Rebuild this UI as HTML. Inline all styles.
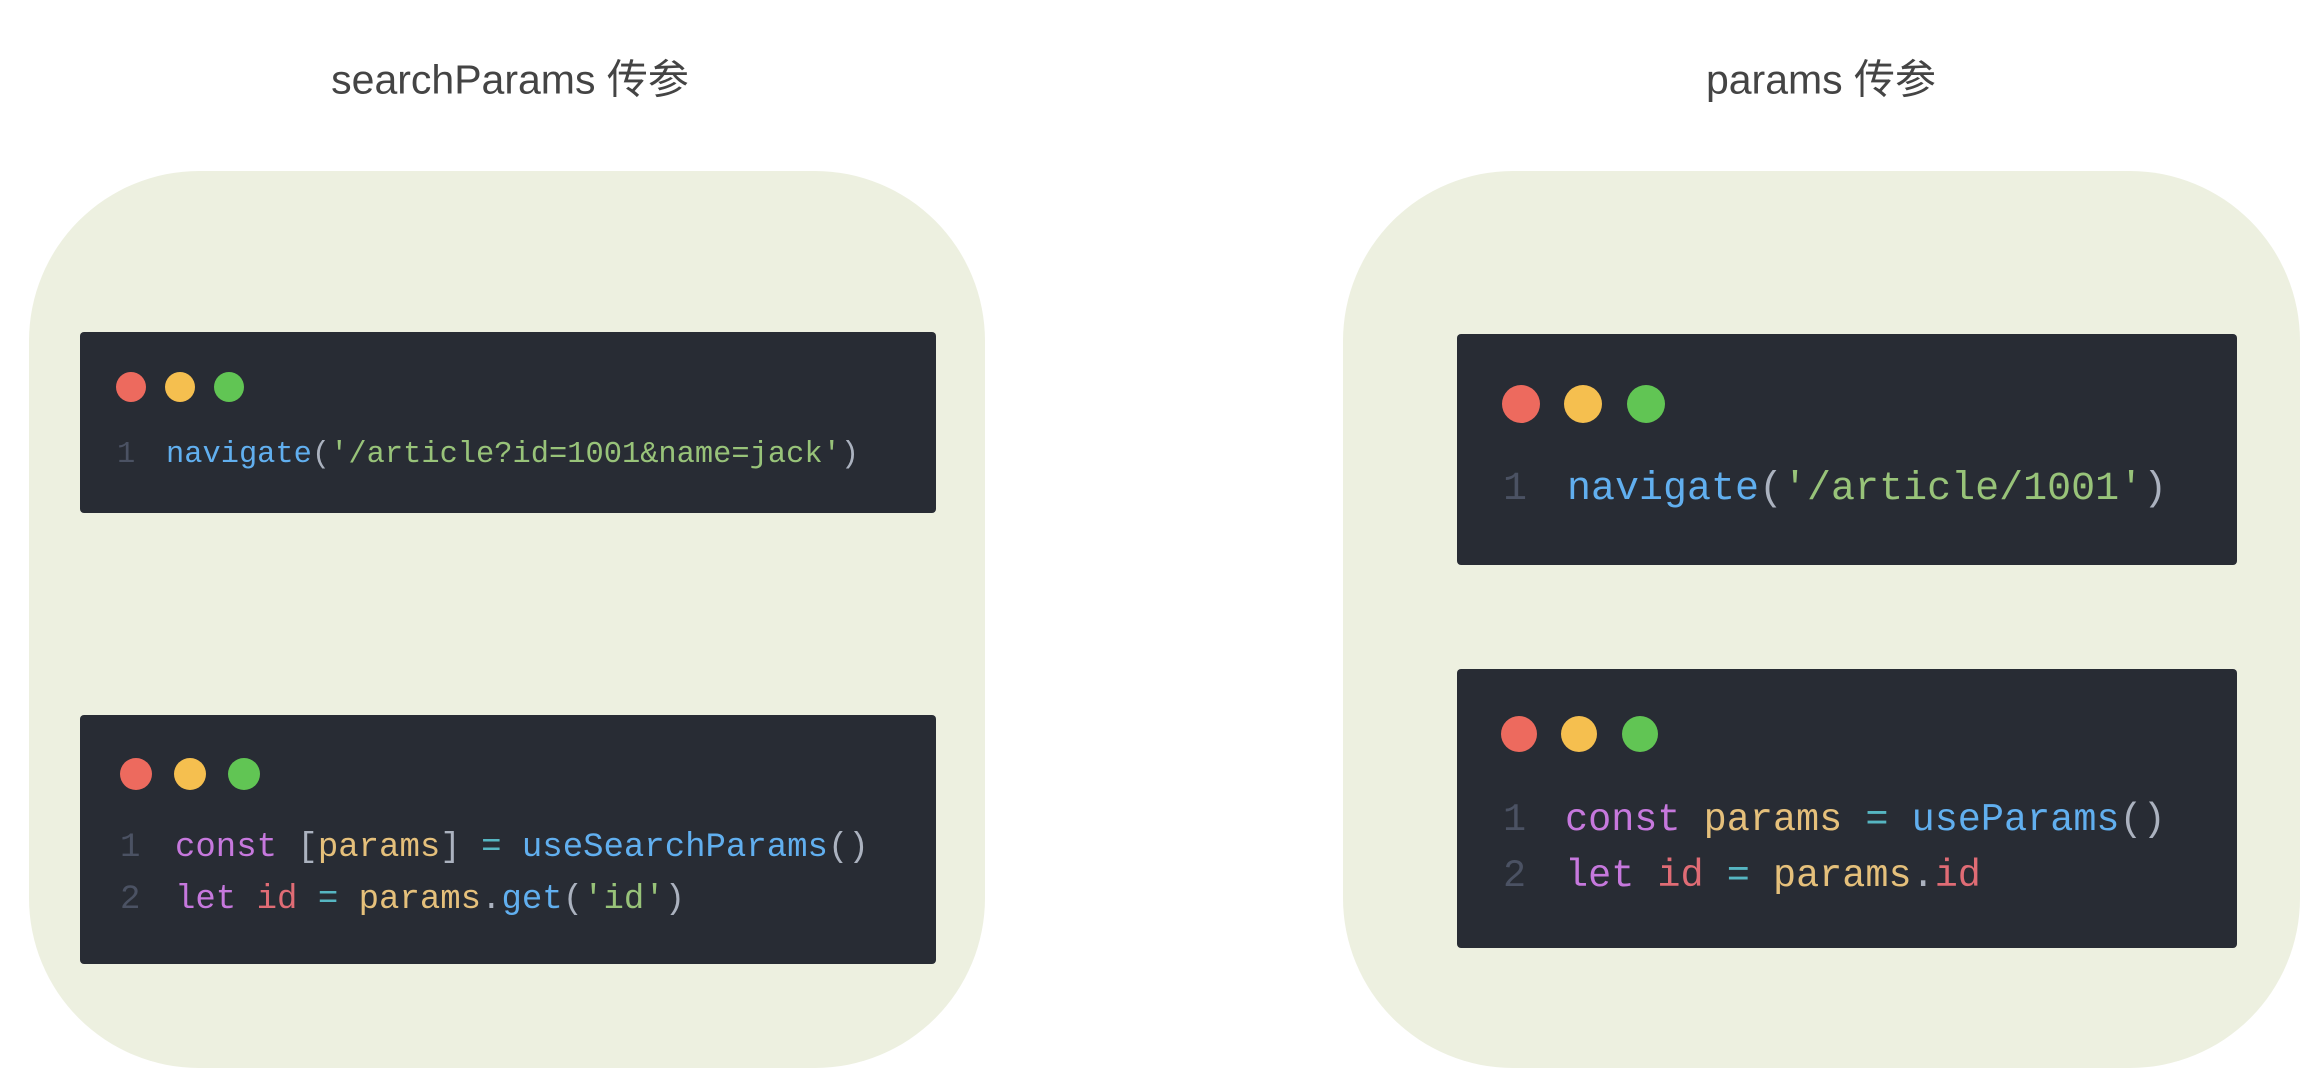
<!DOCTYPE html>
<html><head><meta charset="utf-8"><style>
*{margin:0;padding:0;box-sizing:border-box}
body{width:2322px;height:1086px;background:#fff;position:relative;overflow:hidden;font-family:"Liberation Sans","Noto Sans CJK SC",sans-serif}
.t{position:absolute;color:#444;font-size:41px;line-height:1;white-space:nowrap;transform:translate(-50%,-50%)}
.panel{position:absolute;background:#edf0e0;border-radius:170px}
.code{position:absolute;background:#282c34;border-radius:4px}
.dot{position:absolute;border-radius:50%}
.l{position:absolute;font-family:"Liberation Mono",monospace;white-space:pre;line-height:1;color:#abb2bf}
.n{color:#4b5263}.b{color:#61afef}.g{color:#98c379}.p{color:#c678dd}.y{color:#e5c07b}.r{color:#e06c75}.c{color:#56b6c2}
</style></head><body>
<div class="t" style="left:510px;top:80px">searchParams 传参</div>
<div class="t" style="left:1821px;top:80px">params 传参</div>

<div class="panel" style="left:29px;top:171px;width:956px;height:897px"></div>
<div class="panel" style="left:1343px;top:171px;width:957px;height:897px"></div>

<div class="code" style="left:80px;top:332px;width:856px;height:181px"></div>
<div class="dot" style="left:116px;top:372px;width:30px;height:30px;background:#ed6a5e"></div>
<div class="dot" style="left:165px;top:372px;width:30px;height:30px;background:#f5bf4f"></div>
<div class="dot" style="left:214px;top:372px;width:30px;height:30px;background:#61c554"></div>
<div class="l n" style="left:117px;top:440px;font-size:30.4px">1</div>
<div class="l" style="left:166px;top:440px;font-size:30.4px"><span class="b">navigate</span>(<span class="g">'/article?id=1001&amp;name=jack'</span>)</div>

<div class="code" style="left:80px;top:715px;width:856px;height:249px"></div>
<div class="dot" style="left:120px;top:758px;width:32px;height:32px;background:#ed6a5e"></div>
<div class="dot" style="left:174px;top:758px;width:32px;height:32px;background:#f5bf4f"></div>
<div class="dot" style="left:228px;top:758px;width:32px;height:32px;background:#61c554"></div>
<div class="l n" style="left:120px;top:831px;font-size:34px">1</div>
<div class="l" style="left:175px;top:831px;font-size:34px"><span class="p">const</span> [<span class="y">params</span>] <span class="c">=</span> <span class="b">useSearchParams</span>()</div>
<div class="l n" style="left:120px;top:883px;font-size:34px">2</div>
<div class="l" style="left:175px;top:883px;font-size:34px"><span class="p">let</span> <span class="r">id</span> <span class="c">=</span> <span class="y">params</span>.<span class="b">get</span>(<span class="g">'id'</span>)</div>

<div class="code" style="left:1457px;top:334px;width:780px;height:231px"></div>
<div class="dot" style="left:1502px;top:385px;width:38px;height:38px;background:#ed6a5e"></div>
<div class="dot" style="left:1564px;top:385px;width:38px;height:38px;background:#f5bf4f"></div>
<div class="dot" style="left:1627px;top:385px;width:38px;height:38px;background:#61c554"></div>
<div class="l n" style="left:1503px;top:470px;font-size:40px">1</div>
<div class="l" style="left:1567px;top:470px;font-size:40px"><span class="b">navigate</span>(<span class="g">'/article/1001'</span>)</div>

<div class="code" style="left:1457px;top:669px;width:780px;height:279px"></div>
<div class="dot" style="left:1501px;top:716px;width:36px;height:36px;background:#ed6a5e"></div>
<div class="dot" style="left:1561px;top:716px;width:36px;height:36px;background:#f5bf4f"></div>
<div class="dot" style="left:1622px;top:716px;width:36px;height:36px;background:#61c554"></div>
<div class="l n" style="left:1503px;top:801px;font-size:38.5px">1</div>
<div class="l" style="left:1565px;top:801px;font-size:38.5px"><span class="p">const</span> <span class="y">params</span> <span class="c">=</span> <span class="b">useParams</span>()</div>
<div class="l n" style="left:1503px;top:857px;font-size:38.5px">2</div>
<div class="l" style="left:1565px;top:857px;font-size:38.5px"><span class="p">let</span> <span class="r">id</span> <span class="c">=</span> <span class="y">params</span>.<span class="r">id</span></div>
</body></html>
